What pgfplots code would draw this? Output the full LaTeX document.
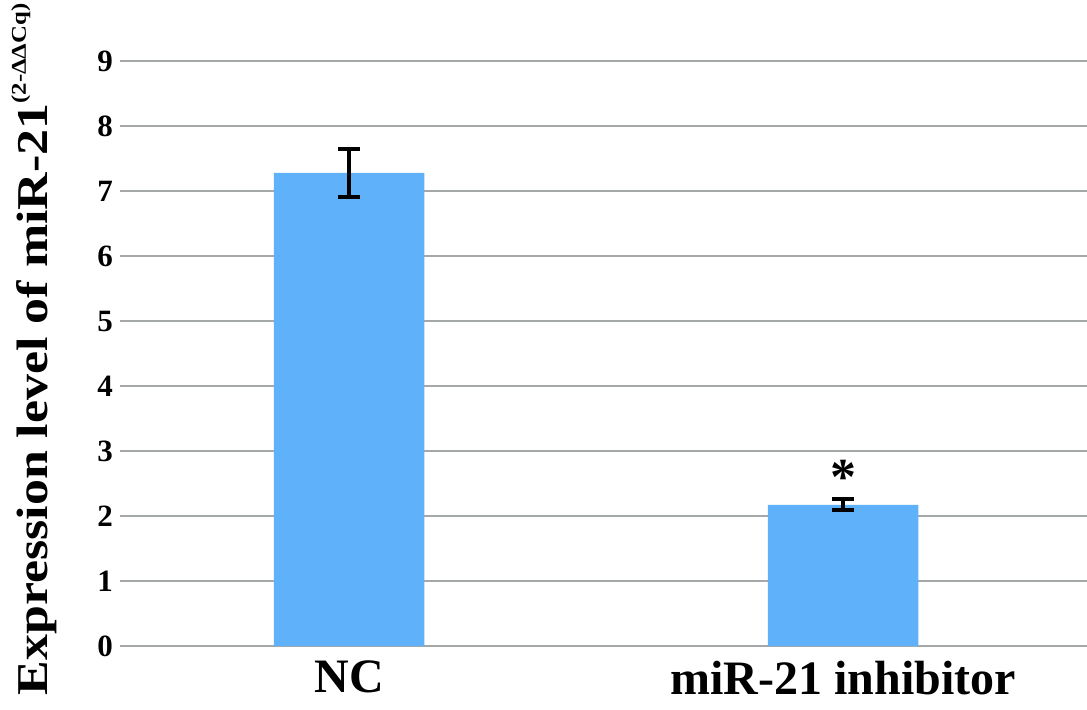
\documentclass[border=0pt]{standalone}
\usepackage{pgfplots}
\pgfplotsset{compat=1.18}
\usepackage{fontspec}
\setmainfont{Liberation Serif}
\definecolor{barblue}{RGB}{95,178,250}
\definecolor{gridgray}{RGB}{165,168,168}
\begin{document}
\begin{tikzpicture}
\begin{axis}[
  scale only axis,
  width=483.5pt, height=292.5pt,
  xmin=-0.464, xmax=1.494,
  ymin=0, ymax=9,
  ytick={0,1,...,9},
  xtick={0,1},
  xticklabels={NC, miR-21 inhibitor},
  axis line style={draw=none},
  major tick length=0pt,
  ymajorgrids=true,
  grid style={gridgray, line width=1.2pt},
  /pgf/number format/assume math mode=true,
  yticklabel style={font=\fontsize{15.5}{18}\selectfont\bfseries},
  xticklabel style={font=\fontsize{24}{26}\selectfont\bfseries, yshift=-4pt},
  ylabel={Expression level of miR-21\raisebox{1.1ex}{\fontsize{10.5}{12}\selectfont(2-ΔΔCq)}},
  every axis y label/.style={at={(rel axis cs:0,0.5)}, xshift=-36pt, yshift=2pt, rotate=90, xscale=1.18, anchor=base,
    font=\fontsize{22}{24}\selectfont\bfseries},
]
\addplot[ybar, bar width=150.5pt*0.5, fill=barblue, draw=none,
  error bars/.cd, y dir=both, y explicit,
  error bar style={black, line width=2pt},
  error mark options={rotate=90, mark size=5.5pt, black, line width=2pt}]
  coordinates {
    (0,7.28) +- (0,0.37)
    (1,2.17) +- (0,0.085)
  };
\node[font=\fontsize{26}{28}\selectfont\bfseries] at (axis cs:1,2.6) {*};
\end{axis}
\pgfresetboundingbox
\path[use as bounding box] (current axis.south west) ++(-60pt,-31.5pt) rectangle ++(543.5pt,354.5pt);
\end{tikzpicture}
\end{document}
